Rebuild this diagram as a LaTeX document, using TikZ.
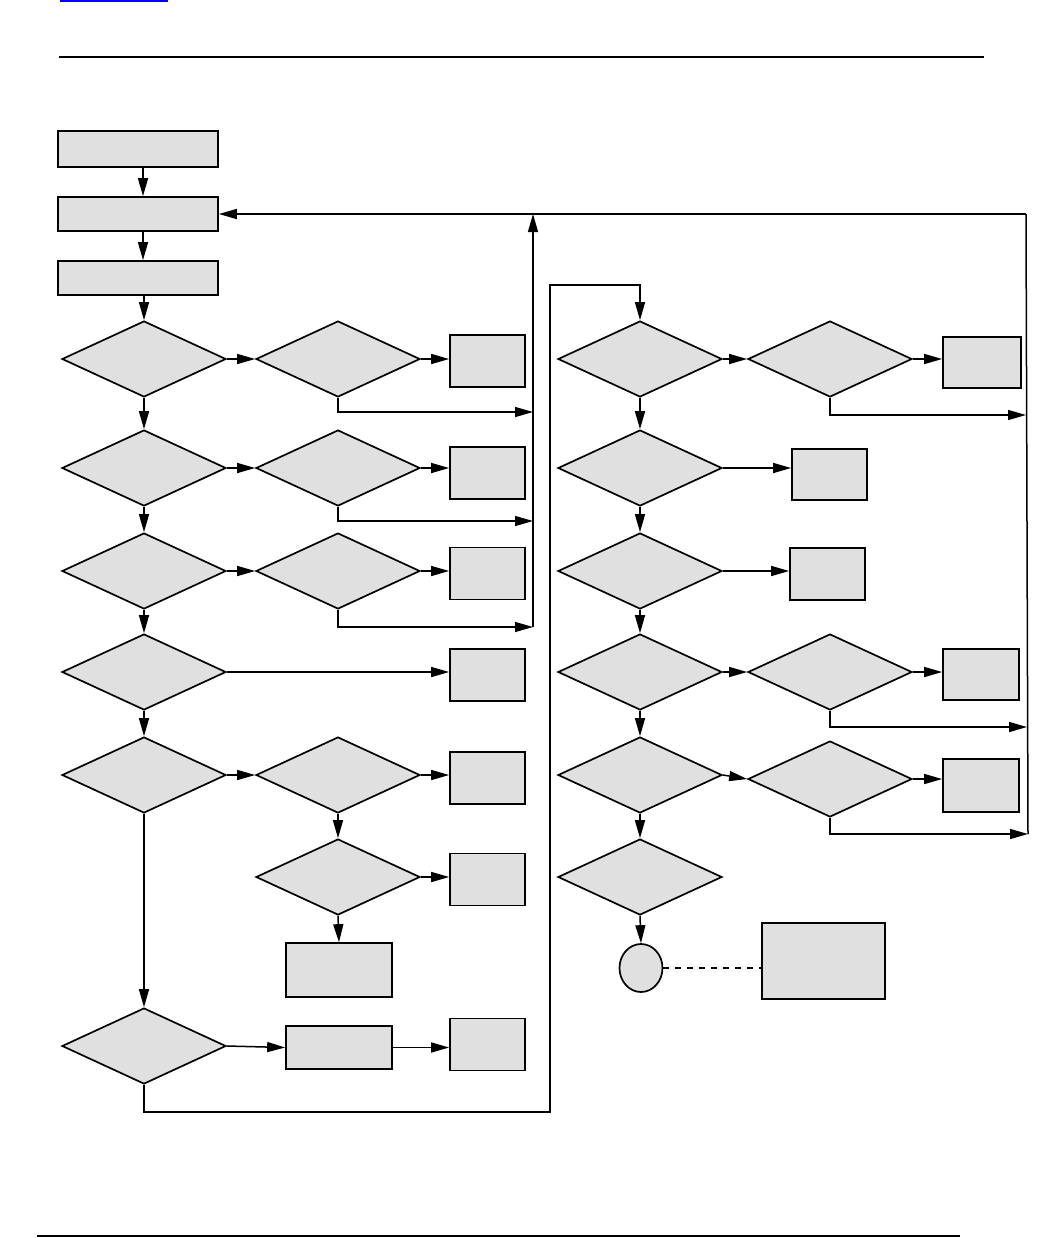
\documentclass[tikz,border=0pt]{standalone}
\usetikzlibrary{shapes.geometric,arrows.meta}
\definecolor{boxgray}{HTML}{E0E0E0}
\begin{document}
\begin{tikzpicture}[x=0.5pt,y=-0.5pt,
  shp/.style={draw, fill=boxgray, line width=0.85pt, inner sep=0pt},
  dia/.style={shp, diamond, minimum width=82pt, minimum height=38pt},
  rbox/.style 2 args={shp, rectangle, minimum width=#1, minimum height=#2},
  conn/.style={line width=0.75pt},
  arr/.style={conn, -{Triangle[length=9pt,width=5pt]}}]
\useasboundingbox (0,0) rectangle (1056,1238);
% page rules
\draw[blue, line width=0.6pt] (60,1) -- (168,1);
\draw[line width=1pt] (59,57) -- (984,57);
\draw[line width=1pt] (37,1236) -- (960,1236);
% left column boxes
\node[rbox={80pt}{18pt}] (A) at (138,149) {};
\node[rbox={80pt}{17pt}] (B) at (138,214) {};
\node[rbox={80pt}{17pt}] (C) at (138,278) {};
% diamonds left
\node[dia] (D1) at (144,359) {};
\node[dia] (D2) at (144,468) {};
\node[dia] (D3) at (144,571) {};
\node[dia] (D4) at (144,672) {};
\node[dia] (D5) at (144,775) {};
\node[dia] (D6) at (144,1046) {};
\node[dia] (E1) at (338,359) {};
\node[dia] (E2) at (338,468) {};
\node[dia] (E3) at (338,571) {};
\node[dia] (E5) at (338,775) {};
\node[dia] (E6) at (338,877) {};
% small boxes
\node[rbox={37.5pt}{26pt}] (F1) at (487.5,361) {};
\node[rbox={37.5pt}{26pt}] (F2) at (487.5,473) {};
\node[rbox={37.5pt}{26pt}] (F3) at (487.5,573.5) {};
\node[rbox={37.5pt}{26pt}] (F4) at (487.5,675) {};
\node[rbox={37.5pt}{26pt}] (F5) at (487.5,778) {};
\node[rbox={37.5pt}{26pt}] (F6) at (487.5,879.5) {};
\node[rbox={37.5pt}{26pt}] (F7) at (487.5,1044.5) {};
\node[rbox={53pt}{27pt}] (G) at (339,970) {};
\node[rbox={53pt}{21.5pt}] (H) at (339,1047.5) {};
% right columns
\node[dia] (K1) at (640,359) {};
\node[dia] (K2) at (640,468) {};
\node[dia] (K3) at (640,571) {};
\node[dia] (K4) at (640,672) {};
\node[dia] (K5) at (640,775) {};
\node[dia] (K6) at (640,877) {};
\node[dia] (M1) at (830,359) {};
\node[dia] (M4) at (830,672) {};
\node[dia] (M5) at (830,779) {};
\node[rbox={39pt}{25.5pt}] (N1) at (982,362.5) {};
\node[rbox={37.5pt}{25.5pt}] (N2) at (829.5,474.5) {};
\node[rbox={37.5pt}{26pt}] (N3) at (827.5,574) {};
\node[rbox={38pt}{25.5pt}] (N4) at (981,674.5) {};
\node[rbox={38pt}{26.5pt}] (N5) at (981,785.5) {};
\node[shp, ellipse, minimum width=21.5pt, minimum height=24pt] (Z) at (641,968) {};
\node[rbox={61.5pt}{38pt}] (L) at (823.5,961) {};
% junction coordinates
\coordinate (V) at (533,214);
\coordinate (R) at (1026,214);
\coordinate (j1) at (533,412);
\coordinate (j2) at (533,521);
\coordinate (j3) at (533,627);
\coordinate (r1) at (1026,415);
\coordinate (r4) at (1027,727);
\coordinate (r5) at (1028,834);
\coordinate (b2) at (550,1112);
\coordinate (b4) at (640,285);
\coordinate (cx) at (143,0);
% left connectors
\draw[arr] (A.south -| cx) -- (B.north -| cx);
\draw[arr] (B.south -| cx) -- (C.north -| cx);
\draw[arr] (C.south -| D1.north) -- (D1.north);
\draw[arr] (D1.south) -- (D2.north);
\draw[arr] (D2.south) -- (D3.north);
\draw[arr] (D3.south) -- (D4.north);
\draw[arr] (D4.south) -- (D5.north);
\draw[arr] (D5.south) -- (D6.north);
\draw[arr] (D1.east) -- (E1.west);
\draw[arr] (D2.east) -- (E2.west);
\draw[arr] (D3.east) -- (E3.west);
\draw[arr] (D5.east) -- (E5.west);
\draw[arr] (E1.east) -- (E1.east -| F1.west);
\draw[arr] (E2.east) -- (E2.east -| F2.west);
\draw[arr] (E3.east) -- (E3.east -| F3.west);
\draw[arr] (D4.east) -- (D4.east -| F4.west);
\draw[arr] (E5.east) -- (E5.east -| F5.west);
\draw[arr] (E6.east) -- (E6.east -| F6.west);
\draw[arr] (E5.south) -- (E6.north);
\draw[arr] (E6.south) -- (G.north);
\draw[arr] (D6.east) -- (H.west);
\draw[arr] (H.east) -- (H.east -| F7.west);
\draw[arr] (E1.south) |- (j1);
\draw[arr] (E2.south) |- (j2);
\draw[arr] (E3.south) |- (j3);
\draw[arr] (j3) -- (V);
\draw[arr] (R) -- (B.east);
\draw[arr] (D6.south) |- (b2) |- (b4) -- (K1.north);
% right connectors
\draw[arr] (K1.south) -- (K2.north);
\draw[arr] (K2.south) -- (K3.north);
\draw[arr] (K3.south) -- (K4.north);
\draw[arr] (K4.south) -- (K5.north);
\draw[arr] (K5.south) -- (K6.north);
\draw[arr] (K6.south) -- (Z.north);
\draw[arr] (K1.east) -- (M1.west);
\draw[arr] (K4.east) -- (M4.west);
\draw[arr] (K5.east) -- (M5.west);
\draw[arr] (M1.east) -- (M1.east -| N1.west);
\draw[arr] (M4.east) -- (M4.east -| N4.west);
\draw[arr] (M5.east) -- (M5.east -| N5.west);
\draw[arr] (K2.east) -- (K2.east -| N2.west);
\draw[arr] (K3.east) -- (K3.east -| N3.west);
\draw[arr] (M1.south) |- (r1);
\draw[arr] (M4.south) |- (r4);
\draw[arr] (M5.south) |- (r5);
\draw[conn] (r5) -- (R);
\draw[conn, dashed] (Z.east) -- (Z.east -| L.west);
\end{tikzpicture}
\end{document}
